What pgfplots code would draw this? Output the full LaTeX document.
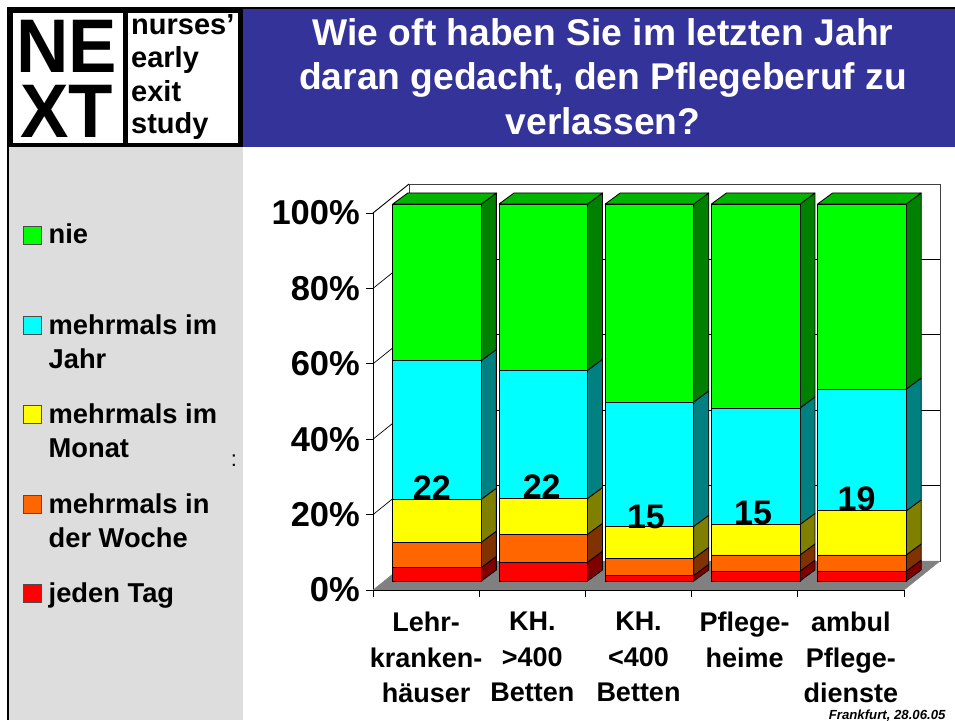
\documentclass[border=0pt]{standalone}
\usepackage{fontspec}
\setmainfont{Liberation Sans}
\usepackage{graphicx}
\usepackage{pgfplots}
\pgfplotsset{compat=1.18}
\definecolor{cgreen}{HTML}{00FF00}
\definecolor{ccyan}{HTML}{00FFFF}
\definecolor{cyellow}{HTML}{FFFF00}
\definecolor{corange}{HTML}{FF6600}
\definecolor{cred}{HTML}{FF0000}
\definecolor{sgreen}{HTML}{008000}
\definecolor{tgreen}{HTML}{00B400}
\definecolor{scyan}{HTML}{008080}
\definecolor{syellow}{HTML}{808000}
\definecolor{sorange}{HTML}{803300}
\definecolor{sred}{HTML}{800000}
\definecolor{band}{HTML}{333399}
\definecolor{panel}{HTML}{DDDDDD}
\newcommand{\fs}[2]{\fontsize{#1}{#2}\selectfont\bfseries}
\pgfplotsset{
  common/.style={scale only axis,width=531pt,height=377pt,xmin=-0.5,xmax=4.5,ymin=0,ymax=100,clip=false,anchor=south west},
  face/.style={draw=black,line width=0.8pt,line join=round},
}
\begin{document}
\begin{tikzpicture}[x=1pt,y=-1pt]
\path[use as bounding box] (0,0) rectangle (955,720);
\fill[white] (0,0) rectangle (955,720);
% panel, band, logo
\fill[panel] (7,147) rectangle (242.7,720);
\fill[black] (6.5,147) rectangle (9,720);
\fill[band] (243,9) rectangle (955,146.5);
\fill[black] (6.5,7) rectangle (955,9.3);
\fill[black] (6.5,7) rectangle (243,147);
\fill[white] (12.7,12.7) rectangle (122.7,143.3);
\fill[white] (128,12.7) rectangle (238,143.3);
\node[anchor=base,inner sep=0] at (66.5,72.7) {\fs{76}{76}\scalebox{.955}[1]{NE}};
\node[anchor=base,inner sep=0] at (66.5,137.7) {\fs{76}{76}\scalebox{.955}[1]{XT}};
\node[anchor=base west,inner sep=0] at (131,34) {\fs{29}{30}nurses’};
\node[anchor=base west,inner sep=0] at (131,67.7) {\fs{29}{30}early};
\node[anchor=base west,inner sep=0] at (131,101) {\fs{29}{30}exit};
\node[anchor=base west,inner sep=0] at (131,133.3) {\fs{29}{30}study};
% title
\node[anchor=base,inner sep=0,white] at (603,45) {\fs{37.2}{40}Wie oft haben Sie im letzten Jahr};
\node[anchor=base,inner sep=0,white] at (603,89.3) {\fs{37.2}{40}daran gedacht, den Pflegeberuf zu};
\node[anchor=base,inner sep=0,white] at (603,134) {\fs{37.2}{40}verlassen?};
% legend
\foreach \yy/\cc in {235/cgreen,325/ccyan,414/cyellow,504/corange,593/cred}
  \filldraw[fill=\cc,draw=black!70,line width=0.7pt] (23.3,\yy-9) rectangle (41,\yy+9);
\node[anchor=base west,inner sep=0] at (48.5,243.5) {\fs{27.3}{34}nie};
\node[anchor=base west,inner sep=0] at (48.5,334.3) {\fs{27.3}{34}mehrmals im};
\node[anchor=base west,inner sep=0] at (48.5,368.3) {\fs{27.3}{34}Jahr};
\node[anchor=base west,inner sep=0] at (48.5,423) {\fs{27.3}{34}mehrmals im};
\node[anchor=base west,inner sep=0] at (48.5,457.3) {\fs{27.3}{34}Monat};
\node[anchor=base west,inner sep=0] at (48.5,513) {\fs{27.3}{34}mehrmals in};
\node[anchor=base west,inner sep=0] at (48.5,547) {\fs{27.3}{34}der Woche};
\node[anchor=base west,inner sep=0] at (48.5,602.5) {\fs{27.3}{34}jeden Tag};
\node[anchor=base,inner sep=0] at (234,466.5) {\fontsize{22}{22}\selectfont :};
\node[anchor=base east,inner sep=0] at (945.7,719) {\fontsize{13.2}{14}\selectfont\bfseries\itshape Frankfurt, 28.06.05};
% back wall
\begin{axis}[common,at={(409pt,-561pt)},axis line style={black!75,line width=0.9pt},
  xtick=\empty,ytick={0,20,40,60,80,100},yticklabels={},major tick length=0pt,
  ymajorgrids,grid style={black,line width=0.7pt}]
\end{axis}
% front frame, floor, left wall, labels
\begin{axis}[common,at={(373pt,-590pt)},axis x line=bottom,axis y line=left,
  axis line style={-,black,line width=1pt},
  xtick={0,1,2,3,4},
  xticklabels={{Lehr-\\kranken-\\häuser},{KH.\\>400\\Betten},{KH.\\<400\\Betten},{Pflege-\\heime},{ambul\\Pflege-\\dienste}},
  minor xtick={-0.5,0.5,1.5,2.5,3.5,4.5},
  major x tick style={draw=none},
  minor x tick style={black,line width=0.9pt},
  minor tick length=7pt,
  xticklabel style={align=center,font=\fs{27}{35.5},inner sep=0pt,yshift=-15pt},
  ytick={0,20,40,60,80,100},
  yticklabels={0\%,20\%,40\%,60\%,80\%,100\%},
  major y tick style={black,line width=0.9pt},
  major tick length=7pt,
  tick align=outside,
  yticklabel style={font=\fs{34.5}{36},inner sep=0pt,xshift=-6pt},
]
\addplot[fill=gray,draw=gray] coordinates {(-0.5,0) (4.5,0) (4.839,7.69) (-0.161,7.69)} -- cycle;
\addplot[black,line width=0.7pt] coordinates {(-0.5,20) (-0.161,27.69)};
\addplot[black,line width=0.7pt] coordinates {(-0.5,40) (-0.161,47.69)};
\addplot[black,line width=0.7pt] coordinates {(-0.5,60) (-0.161,67.69)};
\addplot[black,line width=0.7pt] coordinates {(-0.5,80) (-0.161,87.69)};
\addplot[black,line width=0.9pt] coordinates {(-0.5,100) (-0.161,107.69)};
\addplot[black,line width=1pt] coordinates {(-0.5,0) (4.5,0)};
\end{axis}
% side and top faces of the bars
\begin{axis}[common,at={(384pt,-581pt)},hide axis]
\addplot[face,fill=sred]    coordinates {(.417,0) (.558,2.92) (.558,6.52) (.417,3.6)} -- cycle;
\addplot[face,fill=sorange] coordinates {(.417,3.6) (.558,6.52) (.558,13.22) (.417,10.3)} -- cycle;
\addplot[face,fill=syellow] coordinates {(.417,10.3) (.558,13.22) (.558,24.62) (.417,21.7)} -- cycle;
\addplot[face,fill=scyan]   coordinates {(.417,21.7) (.558,24.62) (.558,61.42) (.417,58.5)} -- cycle;
\addplot[face,fill=sgreen]  coordinates {(.417,58.5) (.558,61.42) (.558,102.92) (.417,100)} -- cycle;
\addplot[face,fill=tgreen]  coordinates {(-.417,100) (.417,100) (.558,102.92) (-.276,102.92)} -- cycle;
\addplot[face,fill=sred]    coordinates {(1.417,0) (1.558,2.92) (1.558,7.92) (1.417,5)} -- cycle;
\addplot[face,fill=sorange] coordinates {(1.417,5) (1.558,7.92) (1.558,15.32) (1.417,12.4)} -- cycle;
\addplot[face,fill=syellow] coordinates {(1.417,12.4) (1.558,15.32) (1.558,24.82) (1.417,21.9)} -- cycle;
\addplot[face,fill=scyan]   coordinates {(1.417,21.9) (1.558,24.82) (1.558,58.82) (1.417,55.9)} -- cycle;
\addplot[face,fill=sgreen]  coordinates {(1.417,55.9) (1.558,58.82) (1.558,102.92) (1.417,100)} -- cycle;
\addplot[face,fill=tgreen]  coordinates {(.583,100) (1.417,100) (1.558,102.92) (.724,102.92)} -- cycle;
\addplot[face,fill=sred]    coordinates {(2.417,0) (2.558,2.92) (2.558,4.42) (2.417,1.5)} -- cycle;
\addplot[face,fill=sorange] coordinates {(2.417,1.5) (2.558,4.42) (2.558,8.92) (2.417,6)} -- cycle;
\addplot[face,fill=syellow] coordinates {(2.417,6) (2.558,8.92) (2.558,17.42) (2.417,14.5)} -- cycle;
\addplot[face,fill=scyan]   coordinates {(2.417,14.5) (2.558,17.42) (2.558,50.42) (2.417,47.5)} -- cycle;
\addplot[face,fill=sgreen]  coordinates {(2.417,47.5) (2.558,50.42) (2.558,102.92) (2.417,100)} -- cycle;
\addplot[face,fill=tgreen]  coordinates {(1.583,100) (2.417,100) (2.558,102.92) (1.724,102.92)} -- cycle;
\addplot[face,fill=sred]    coordinates {(3.417,0) (3.558,2.92) (3.558,5.52) (3.417,2.6)} -- cycle;
\addplot[face,fill=sorange] coordinates {(3.417,2.6) (3.558,5.52) (3.558,9.82) (3.417,6.9)} -- cycle;
\addplot[face,fill=syellow] coordinates {(3.417,6.9) (3.558,9.82) (3.558,17.92) (3.417,15)} -- cycle;
\addplot[face,fill=scyan]   coordinates {(3.417,15) (3.558,17.92) (3.558,48.82) (3.417,45.9)} -- cycle;
\addplot[face,fill=sgreen]  coordinates {(3.417,45.9) (3.558,48.82) (3.558,102.92) (3.417,100)} -- cycle;
\addplot[face,fill=tgreen]  coordinates {(2.583,100) (3.417,100) (3.558,102.92) (2.724,102.92)} -- cycle;
\addplot[face,fill=sred]    coordinates {(4.417,0) (4.558,2.92) (4.558,5.52) (4.417,2.6)} -- cycle;
\addplot[face,fill=sorange] coordinates {(4.417,2.6) (4.558,5.52) (4.558,9.82) (4.417,6.9)} -- cycle;
\addplot[face,fill=syellow] coordinates {(4.417,6.9) (4.558,9.82) (4.558,21.52) (4.417,18.6)} -- cycle;
\addplot[face,fill=scyan]   coordinates {(4.417,18.6) (4.558,21.52) (4.558,53.82) (4.417,50.9)} -- cycle;
\addplot[face,fill=sgreen]  coordinates {(4.417,50.9) (4.558,53.82) (4.558,102.92) (4.417,100)} -- cycle;
\addplot[face,fill=tgreen]  coordinates {(3.583,100) (4.417,100) (4.558,102.92) (3.724,102.92)} -- cycle;
\end{axis}
% front faces of the bars
\begin{axis}[common,at={(384pt,-581pt)},hide axis,ybar stacked,bar width=88.6pt]
\addplot[face,fill=cred]    coordinates {(0,3.6) (1,5.0) (2,1.5) (3,2.6) (4,2.6)};
\addplot[face,fill=corange] coordinates {(0,6.7) (1,7.4) (2,4.5) (3,4.3) (4,4.3)};
\addplot[face,fill=cyellow] coordinates {(0,11.4) (1,9.5) (2,8.5) (3,8.1) (4,11.7)};
\addplot[face,fill=ccyan]   coordinates {(0,36.8) (1,34.0) (2,33.0) (3,30.9) (4,32.3)};
\addplot[face,fill=cgreen]  coordinates {(0,41.5) (1,44.1) (2,52.5) (3,54.1) (4,49.1)};
\end{axis}
% value labels over the bars
\begin{axis}[common,at={(384pt,-581pt)},hide axis]
\node[anchor=base,inner sep=0] at (axis cs:-0.05,21.6) {\fs{34}{36}22};
\node[anchor=base,inner sep=0] at (axis cs:0.985,21.9) {\fs{34}{36}22};
\node[anchor=base,inner sep=0] at (axis cs:1.967,14.06) {\fs{34}{36}15};
\node[anchor=base,inner sep=0] at (axis cs:2.975,15.1) {\fs{34}{36}15};
\node[anchor=base,inner sep=0] at (axis cs:3.95,18.7) {\fs{34}{36}19};
\end{axis}
\end{tikzpicture}
\end{document}
